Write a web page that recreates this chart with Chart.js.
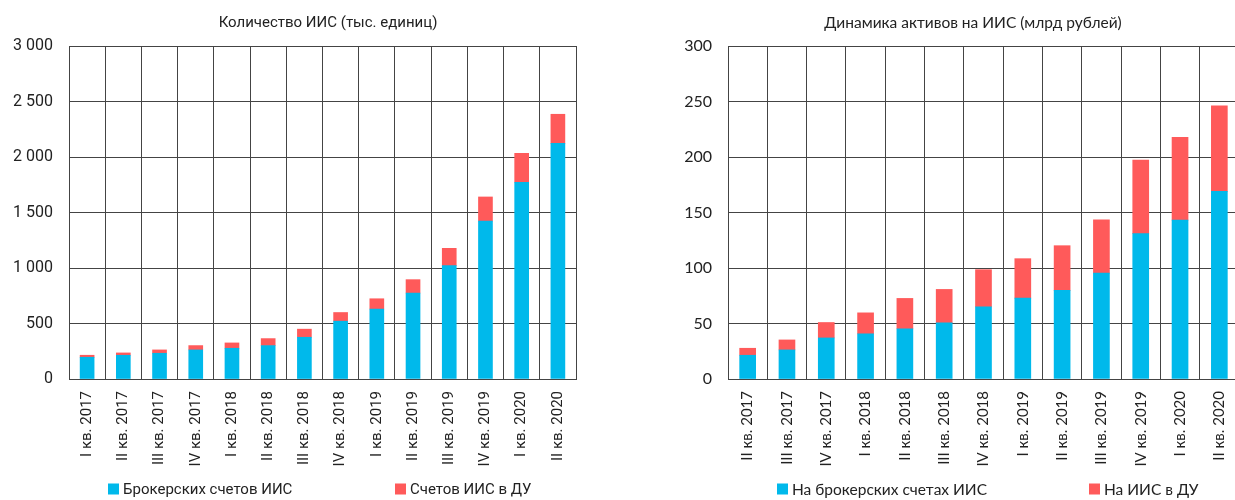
<!DOCTYPE html>
<html><head><meta charset="utf-8">
<script src="https://cdn.jsdelivr.net/npm/chart.js@4.4.0/dist/chart.umd.min.js"></script>
<style>
html,body{margin:0;padding:0;width:1235px;height:500px;overflow:hidden;background:#fff}
#left{position:absolute;left:0;top:0;width:617px;height:500px}
#right{position:absolute;left:617px;top:0;width:640px;height:500px}
</style></head><body>
<div id="left"><canvas id="c1" width="617" height="500"></canvas></div>
<div id="right"><canvas id="c2" width="640" height="500"></canvas></div>
<script>
// ---- data ----
const countTitle = 'Количество ИИС (тыс. единиц)';
const countCategories = ['I кв. 2017','II кв. 2017','III кв. 2017','IV кв. 2017','I кв. 2018','II кв. 2018','III кв. 2018','IV кв. 2018','I кв. 2019','II кв. 2019','III кв. 2019','IV кв. 2019','I кв. 2020','II кв. 2020'];
const countSeriesNames = ['Брокерских счетов ИИС','Счетов ИИС в ДУ'];
const countBroker = [196, 214, 232, 262, 277, 301, 376, 521, 630, 774, 1021, 1423, 1772, 2123];
const countDU = [18, 21, 30, 39, 48, 63, 73, 78, 93, 121, 156, 217, 261, 262];
const countTickLabels = ['0','500','1 000','1 500','2 000','2 500','3 000'];

const assetTitle = 'Динамика активов на ИИС (млрд рублей)';
const assetCategories = ['II кв. 2017','III кв. 2017','IV кв. 2017','I кв. 2018','II кв. 2018','III кв. 2018','IV кв. 2018','I кв. 2019','II кв. 2019','III кв. 2019','IV кв. 2019','I кв. 2020','II кв. 2020'];
const assetSeriesNames = ['На брокерских счетах ИИС','На ИИС в ДУ'];
const assetBroker = [21.4, 26.2, 37.0, 40.7, 45.2, 50.6, 65.0, 72.8, 79.8, 95.4, 130.9, 143.2, 169.0];
const assetDU = [6.3, 9.0, 13.9, 18.9, 27.4, 30.1, 33.5, 35.6, 40.3, 48.1, 66.4, 74.5, 77.2];
const assetTickLabels = ['0','50','100','150','200','250','300'];

// ---- styles ----
const BLUE = '#00B9EB';
const RED = '#FF5A5A';
const GRID = '#444444';
const TEXT = '#222';

const titlePlugin = {
  id: 'placedTitle',
  afterDraw(chart, args, o) {
    const ctx = chart.ctx;
    ctx.save();
    ctx.font = o.font; ctx.fillStyle = o.color;
    ctx.textAlign = 'center'; ctx.textBaseline = 'middle';
    ctx.fillText(o.text, o.x, o.y);
    ctx.restore();
  }
};
const legendPlugin = {
  id: 'placedLegend',
  afterDraw(chart, args, o) {
    const ctx = chart.ctx;
    ctx.save();
    chart.data.datasets.forEach((ds, i) => {
      const x = o.x[i], y = o.y;
      ctx.fillStyle = ds.backgroundColor;
      ctx.fillRect(x, y - o.box / 2 - 1, o.box, o.box);
      ctx.fillStyle = o.color; ctx.font = o.font;
      ctx.textAlign = 'left'; ctx.textBaseline = 'middle';
      ctx.fillText(ds.label, x + o.box + o.gap, y);
    });
    ctx.restore();
  }
};

function makeChart(id, cfg) {
  return new Chart(document.getElementById(id), {
    type: 'bar',
    data: {
      labels: cfg.categories,
      datasets: [
        { label: cfg.names[0], data: cfg.broker, backgroundColor: BLUE, barThickness: cfg.barW },
        { label: cfg.names[1], data: cfg.du, backgroundColor: RED, barThickness: cfg.barW }
      ]
    },
    options: {
      responsive: false,
      animation: false,
      devicePixelRatio: 1,
      layout: { padding: { top: 46, right: cfg.padRight, bottom: 0, left: 0 } },
      plugins: {
        legend: { display: false },
        title: { display: false },
        tooltip: { enabled: false },
        placedTitle: { text: cfg.title, x: cfg.titleX, y: 23, font: cfg.titleFont, color: TEXT },
        placedLegend: { x: cfg.legendX, y: 490, box: 11, gap: 4, font: cfg.legendFont, color: TEXT }
      },
      scales: {
        x: {
          stacked: true,
          grid: { color: GRID, lineWidth: 1, drawTicks: false, offset: true },
          border: { color: GRID, width: 1 },
          ticks: {
            autoSkip: false, minRotation: 90, maxRotation: 90, padding: 12,
            color: TEXT, font: cfg.tickFontX
          },
          afterFit(s) { s.height = 121; }
        },
        y: {
          stacked: true, min: 0, max: cfg.max,
          grid: { color: GRID, lineWidth: 1, drawTicks: false },
          border: { color: GRID, width: 1 },
          ticks: {
            stepSize: cfg.step, padding: 16, color: TEXT, font: cfg.tickFontY,
            callback: (v, i) => cfg.tickLabels[i]
          },
          afterFit(s) { s.width = cfg.yWidth; }
        }
      }
    },
    plugins: [titlePlugin, legendPlugin]
  });
}

makeChart('c1', {
  categories: countCategories, names: countSeriesNames,
  broker: countBroker, du: countDU, tickLabels: countTickLabels,
  max: 3000, step: 500, barW: 14, padRight: 41, yWidth: 69,
  title: countTitle, titleX: 328, titleFont: '15px Roboto',
  legendX: [108, 395], legendFont: '15px Roboto',
  tickFontX: { family: 'Roboto', size: 15 }, tickFontY: { family: 'Roboto', size: 16 }
});
makeChart('c2', {
  categories: assetCategories, names: assetSeriesNames,
  broker: assetBroker, du: assetDU, tickLabels: assetTickLabels,
  max: 300, step: 50, barW: 16, padRight: 18, yWidth: 111,
  title: assetTitle, titleX: 356, titleFont: '15.5px Lato',
  legendX: [160, 472], legendFont: '15.5px Lato',
  tickFontX: { family: 'Lato', size: 15 }, tickFontY: { family: 'Lato', size: 16 }
});
</script>
</body></html>
